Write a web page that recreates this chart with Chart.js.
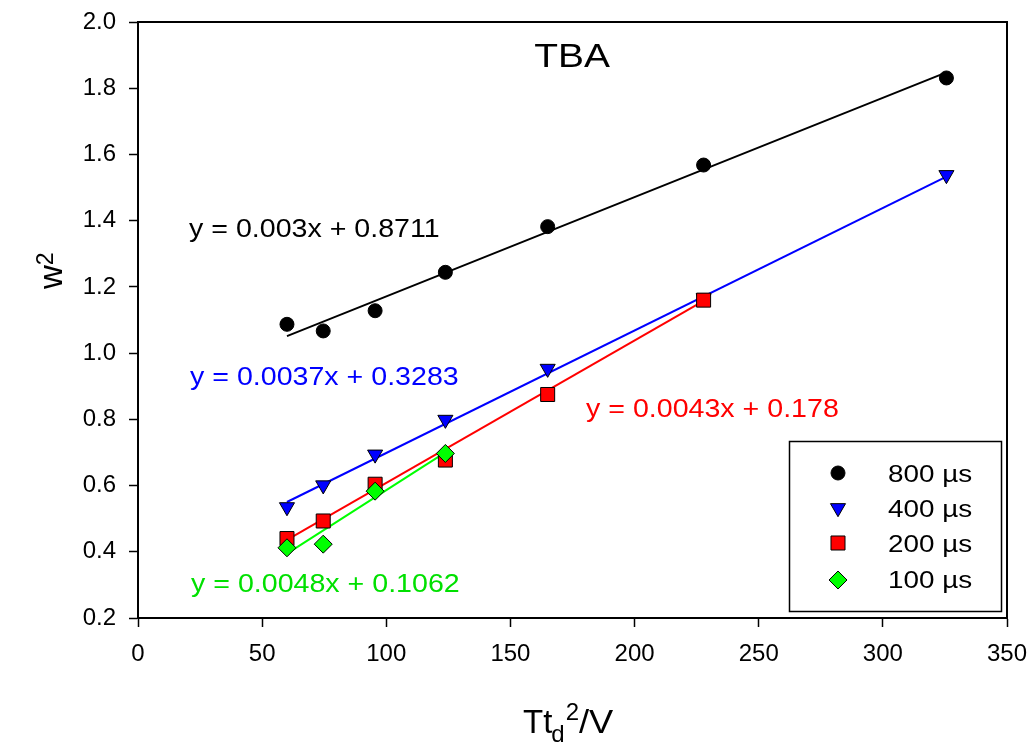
<!DOCTYPE html>
<html>
<head>
<meta charset="utf-8">
<script src="https://cdn.jsdelivr.net/npm/chart.js@4/dist/chart.umd.min.js"></script>
<style>
  html, body { margin: 0; padding: 0; background: #ffffff; }
  canvas { display: block; }
</style>
</head>
<body>
<canvas id="c" width="1034" height="745"></canvas>
<script>
// Series: squared width vs. T·td²/V for four pulse durations (TBA)
const pulseLabels = ['800 µs', '400 µs', '200 µs', '100 µs'];
const xValues = [60, 74.6, 95.5, 123.8, 165, 227.8, 325.6];
const w2_800us = [1.087, 1.067, 1.128, 1.244, 1.382, 1.568, 1.831];
const w2_400us = [0.535, 0.601, 0.694, 0.799, 0.953, 1.166, 1.538];
const w2_200us = [0.440, 0.493, 0.604, 0.677, 0.875, 1.160];
const w2_100us = [0.412, 0.423, 0.583, 0.697];

// Linear fits printed on the plot
const fitSlopes = [0.003, 0.0037, 0.0043, 0.0048];
const fitIntercepts = [0.8711, 0.3283, 0.178, 0.1062];

// Axis ticks
const xTickValues = [0, 50, 100, 150, 200, 250, 300, 350];
const yTickValues = [0.2, 0.4, 0.6, 0.8, 1.0, 1.2, 1.4, 1.6, 1.8, 2.0];

const seriesValues = [w2_800us, w2_400us, w2_200us, w2_100us];
const markerColors = ['#000000', '#0000ff', '#ff0000', '#00ff00'];
const lineColors = ['#000000', '#0000ff', '#ff0000', '#00ff00'];
const textColors = ['#000000', '#0000ff', '#ff0000', '#00e000'];
const markerStyles = [
  { pointStyle: 'circle', radius: 7, rotation: 0 },
  { pointStyle: 'triangle', radius: 8.7, rotation: 180 },
  { pointStyle: 'rect', radius: 9.9, rotation: 0 },
  { pointStyle: 'rectRot', radius: 9, rotation: 0 }
];

const FONT = '"Liberation Sans", Arial, Helvetica, sans-serif';

function toPoints(values) {
  return values.map((v, i) => ({ x: xValues[i], y: v }));
}

const datasets = [];
// regression lines, drawn beneath the markers
seriesValues.forEach((vals, k) => {
  const x0 = xValues[0];
  const x1 = xValues[vals.length - 1];
  datasets.push({
    label: 'fit ' + pulseLabels[k],
    data: [
      { x: x0, y: fitSlopes[k] * x0 + fitIntercepts[k] },
      { x: x1, y: fitSlopes[k] * x1 + fitIntercepts[k] }
    ],
    showLine: true,
    borderColor: lineColors[k],
    borderWidth: 2,
    pointRadius: 0,
    fill: false,
    order: 20 + k
  });
});
// measured points; later series sit on top
seriesValues.forEach((vals, k) => {
  datasets.push({
    label: pulseLabels[k],
    data: toPoints(vals),
    showLine: false,
    pointStyle: markerStyles[k].pointStyle,
    pointRadius: markerStyles[k].radius,
    pointRotation: markerStyles[k].rotation,
    pointBackgroundColor: markerColors[k],
    pointBorderColor: '#000000',
    pointBorderWidth: 1,
    order: 10 - k
  });
});

function stretchedText(ctx, text, x, y, size, color, sx, align) {
  ctx.save();
  ctx.font = size + 'px ' + FONT;
  ctx.fillStyle = color;
  ctx.textBaseline = 'alphabetic';
  ctx.textAlign = align || 'left';
  ctx.translate(x, y);
  ctx.scale(sx, 1);
  ctx.fillText(text, 0, 0);
  ctx.restore();
}

const decorations = {
  id: 'decorations',
  afterDraw(chart) {
    const ctx = chart.ctx;
    const a = chart.chartArea;

    // top and right frame
    ctx.save();
    ctx.strokeStyle = '#000000';
    ctx.lineWidth = 2;
    ctx.beginPath();
    ctx.moveTo(a.left, a.top);
    ctx.lineTo(a.right, a.top);
    ctx.lineTo(a.right, a.bottom);
    ctx.stroke();
    ctx.restore();

    // title
    stretchedText(ctx, 'TBA', 572, 67, 33, '#000000', 1.18, 'center');

    // fit equations
    const eqPos = [[189, 237], [190, 385], [586, 417], [191, 592]];
    fitSlopes.forEach((m, k) => {
      const txt = 'y = ' + m + 'x + ' + fitIntercepts[k];
      stretchedText(ctx, txt, eqPos[k][0], eqPos[k][1], 26, textColors[k], 1.1);
    });

    // legend box
    ctx.save();
    ctx.strokeStyle = '#000000';
    ctx.lineWidth = 1.5;
    ctx.strokeRect(789.5, 441.5, 212, 170);
    ctx.restore();
    const rowMarkerY = [473, 508, 543, 580];
    const rowTextY = [482, 517, 552, 588];
    pulseLabels.forEach((lab, k) => {
      ctx.save();
      ctx.fillStyle = markerColors[k];
      ctx.strokeStyle = '#000000';
      ctx.lineWidth = 1;
      Chart.helpers.drawPoint(ctx, {
        pointStyle: markerStyles[k].pointStyle,
        radius: markerStyles[k].radius,
        rotation: markerStyles[k].rotation,
        borderWidth: 1
      }, 838, rowMarkerY[k]);
      ctx.restore();
      stretchedText(ctx, lab, 888, rowTextY[k], 24, '#000000', 1.16);
    });

    // x-axis title: Tt_d^2/V
    ctx.save();
    ctx.fillStyle = '#000000';
    ctx.textBaseline = 'alphabetic';
    ctx.textAlign = 'left';
    let cx = 523;
    ctx.font = '33px ' + FONT;
    ctx.fillText('Tt', cx, 733);
    cx += ctx.measureText('Tt').width;
    ctx.font = '24px ' + FONT;
    ctx.fillText('d', cx - 1, 742);
    cx += ctx.measureText('d').width;
    ctx.fillText('2', cx, 720);
    cx += ctx.measureText('2').width;
    ctx.font = '33px ' + FONT;
    ctx.save();
    ctx.translate(cx, 733);
    ctx.scale(1.1, 1);
    ctx.fillText('/V', 0, 0);
    ctx.restore();
    ctx.restore();

    // y-axis title: w^2
    ctx.save();
    ctx.fillStyle = '#000000';
    ctx.textBaseline = 'alphabetic';
    ctx.translate(62, 289);
    ctx.rotate(-Math.PI / 2);
    ctx.font = '33px ' + FONT;
    ctx.fillText('w', 0, 0);
    const ww = ctx.measureText('w').width;
    ctx.font = '23px ' + FONT;
    ctx.fillText('2', ww, -9);
    ctx.restore();
  }
};

new Chart(document.getElementById('c'), {
  type: 'scatter',
  data: { datasets },
  plugins: [decorations],
  options: {
    responsive: false,
    animation: false,
    devicePixelRatio: 1,
    layout: { padding: { left: 0, right: 27, top: 22, bottom: 0 } },
    plugins: {
      legend: { display: false },
      tooltip: { enabled: false },
      title: { display: false }
    },
    scales: {
      x: {
        type: 'linear',
        min: 0,
        max: 350,
        afterBuildTicks(scale) { scale.ticks = xTickValues.map(v => ({ value: v })); },
        afterFit(scale) { scale.height = 127; scale.paddingLeft = 0; scale.paddingRight = 0; },
        ticks: {
          color: '#000000',
          font: { family: FONT, size: 24 },
          padding: 13,
          maxRotation: 0,
          autoSkip: false,
          callback: v => String(v)
        },
        grid: { drawOnChartArea: false, drawTicks: true, tickLength: 9, tickColor: '#000000', tickWidth: 1.5 },
        border: { display: true, color: '#000000', width: 2 }
      },
      y: {
        type: 'linear',
        min: 0.2,
        max: 2.0,
        afterBuildTicks(scale) { scale.ticks = yTickValues.map(v => ({ value: v })); },
        afterFit(scale) { scale.width = 138; scale.paddingTop = 0; scale.paddingBottom = 0; },
        ticks: {
          color: '#000000',
          font: { family: FONT, size: 24 },
          padding: 13,
          autoSkip: false,
          callback: v => Number(v).toFixed(1)
        },
        grid: { drawOnChartArea: false, drawTicks: true, tickLength: 9, tickColor: '#000000', tickWidth: 1.5 },
        border: { display: true, color: '#000000', width: 2 }
      }
    }
  }
});
</script>
</body>
</html>
